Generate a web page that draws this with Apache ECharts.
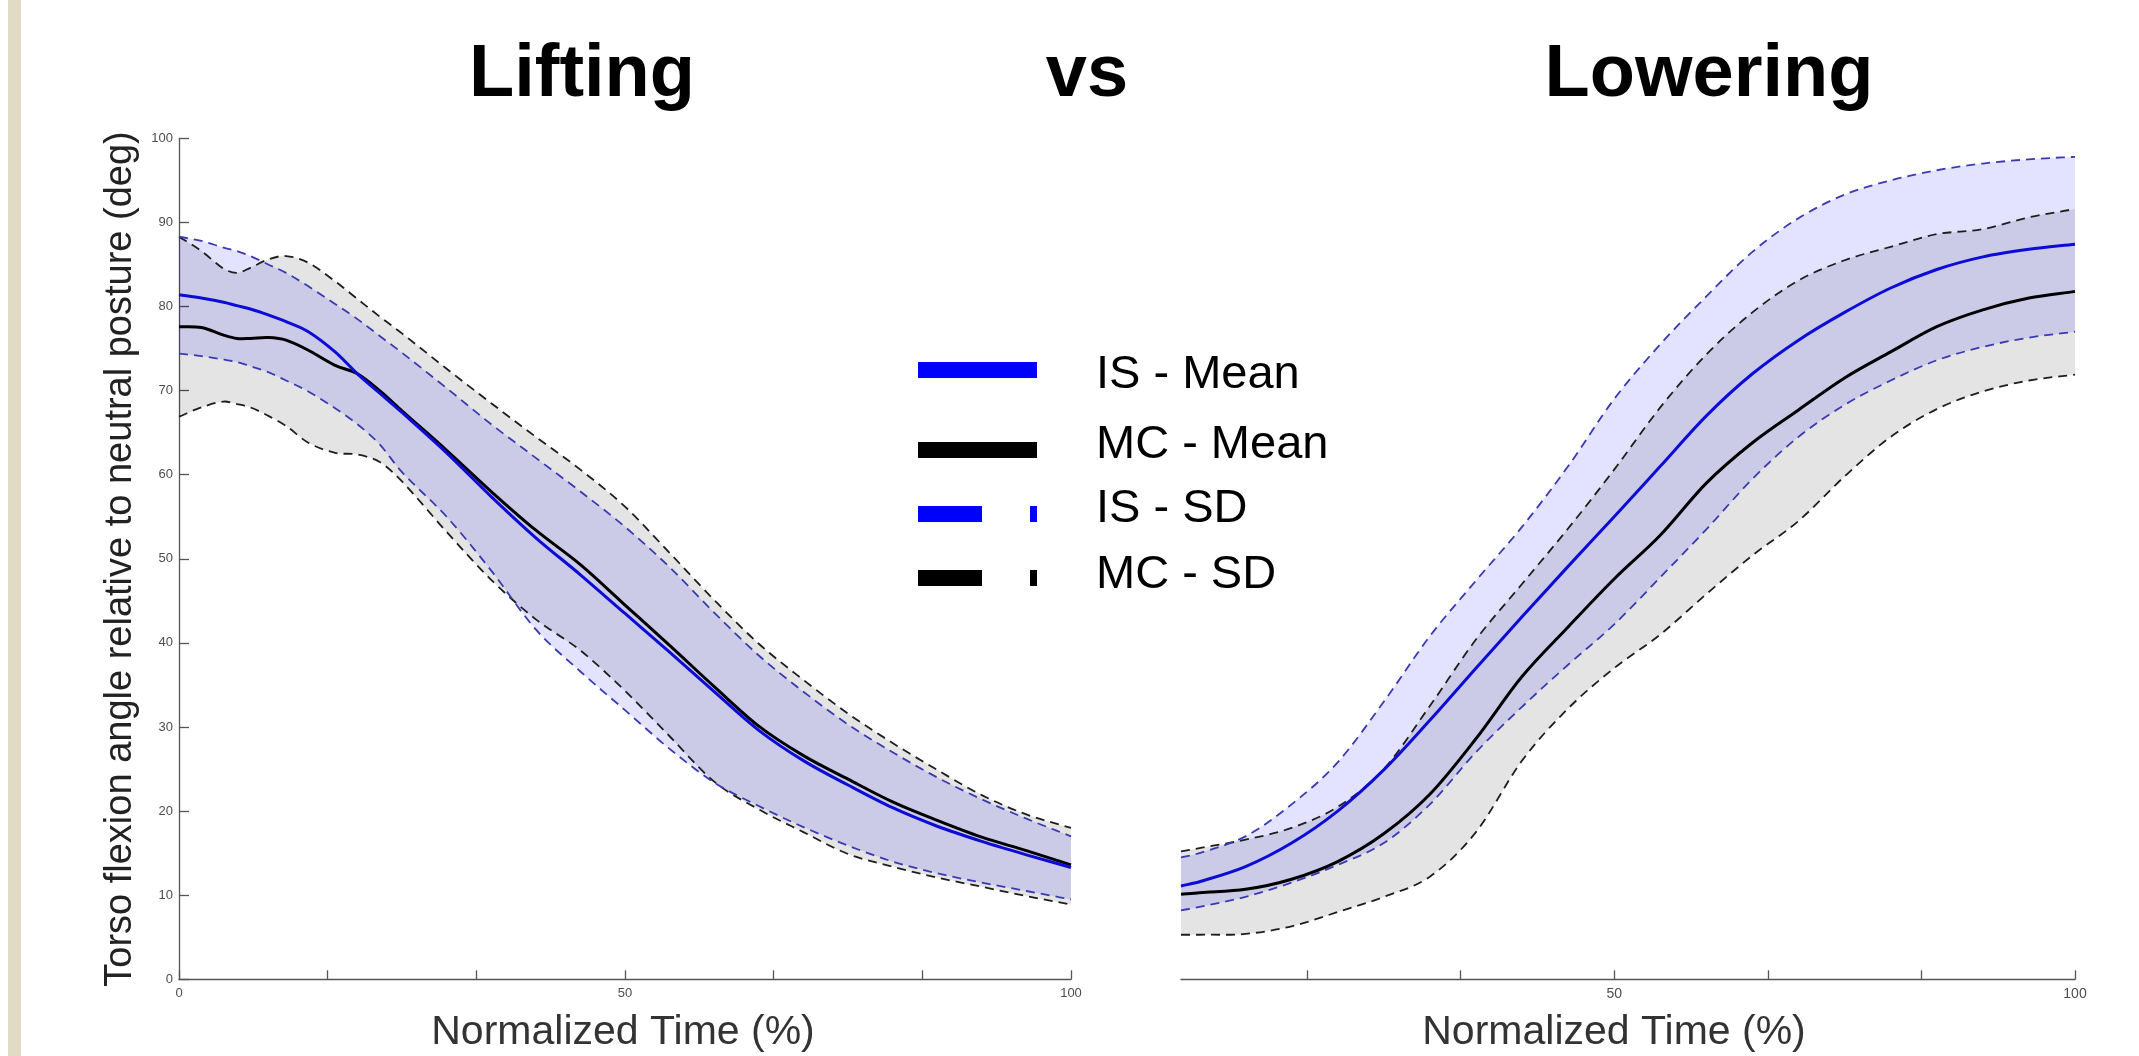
<!DOCTYPE html>
<html><head><meta charset="utf-8">
<script src="https://cdn.jsdelivr.net/npm/echarts@6/dist/echarts.min.js"></script>
<style>html,body{margin:0;padding:0;background:#fff}#c{width:2139px;height:1056px}</style>
</head><body><div id="c"></div>
<script>
// ---- Lifting panel (normalized time %, angle deg) ----
const liftTime    = [0, 2.5, 5, 6.5, 8, 10, 12, 14.5, 17.5, 20, 22.5, 25, 30, 35, 40, 45, 50, 55, 60, 65, 70, 75, 80, 85, 90, 95, 100];
const liftIsMean  = [81.4, 81.0, 80.5, 80.1, 79.7, 79.0, 78.2, 77.0, 74.6, 72.0, 69.7, 67.4, 62.6, 57.4, 52.5, 48.1, 43.5, 38.9, 34.2, 29.6, 26.0, 23.1, 20.4, 18.2, 16.4, 14.8, 13.3];
const liftIsUpper = [88.3, 87.8, 87.0, 86.6, 86.0, 85.0, 84.0, 82.4, 80.3, 78.5, 76.5, 74.5, 70.3, 66.0, 62.0, 58.0, 53.8, 49.0, 43.6, 38.5, 34.2, 30.3, 27.0, 24.0, 21.4, 19.1, 17.0];
const liftIsLower = [74.4, 74.1, 73.7, 73.4, 72.9, 72.2, 71.2, 69.9, 67.9, 66.0, 63.6, 60.3, 55.0, 48.6, 41.6, 36.6, 32.0, 27.4, 23.4, 20.6, 18.1, 15.9, 14.0, 12.6, 11.5, 10.5, 9.5];
const liftMcMean  = [77.6, 77.5, 76.6, 76.2, 76.2, 76.3, 76.0, 74.8, 73.0, 72.0, 70.0, 67.6, 62.9, 58.0, 53.4, 49.3, 44.5, 39.7, 34.8, 30.1, 26.6, 23.8, 21.1, 18.9, 16.9, 15.3, 13.6];
const liftMcUpper = [88.3, 86.6, 84.5, 84.0, 84.6, 85.6, 86.0, 85.2, 83.0, 80.9, 78.8, 76.8, 72.6, 68.5, 64.5, 60.6, 56.2, 50.7, 45.1, 39.9, 35.6, 31.6, 28.1, 24.9, 21.9, 19.6, 18.0];
const liftMcLower = [66.9, 68.0, 68.7, 68.4, 68.0, 67.0, 65.8, 63.8, 62.6, 62.4, 61.5, 59.2, 53.2, 47.5, 42.8, 39.1, 34.3, 28.9, 23.5, 20.2, 17.5, 14.9, 13.4, 12.1, 11.0, 9.9, 8.9];

// ---- Lowering panel ----
const lowTime    = [3, 5, 10, 15, 20, 25, 30, 35, 40, 45, 50, 55, 60, 65, 70, 75, 80, 85, 90, 95, 100];
const lowIsMean  = [11.1, 11.6, 13.4, 16.2, 20.0, 24.9, 30.8, 37.0, 43.1, 49.1, 55.0, 61.0, 67.0, 72.0, 76.0, 79.3, 82.2, 84.4, 85.9, 86.8, 87.4];
const lowIsUpper = [14.5, 15.0, 17.0, 20.8, 25.8, 33.0, 40.8, 47.4, 53.8, 61.0, 69.0, 75.5, 81.2, 86.5, 90.5, 93.3, 95.0, 96.2, 97.0, 97.5, 97.8];
const lowIsLower = [8.2, 8.6, 9.8, 11.5, 13.6, 16.2, 20.8, 27.0, 32.4, 37.4, 42.2, 47.8, 53.5, 59.5, 64.5, 68.3, 71.2, 73.6, 75.2, 76.3, 77.0];
const lowMcMean  = [10.1, 10.3, 10.7, 11.9, 14.0, 17.3, 22.0, 28.6, 36.0, 41.9, 47.6, 52.8, 59.0, 63.8, 67.7, 71.5, 74.6, 77.6, 79.6, 81.0, 81.8];
const lowMcUpper = [15.2, 15.6, 16.6, 18.0, 20.5, 25.0, 32.5, 40.4, 47.0, 53.6, 60.6, 68.0, 74.3, 79.3, 83.1, 85.5, 87.1, 88.6, 89.2, 90.6, 91.6];
const lowMcLower = [5.3, 5.3, 5.4, 6.3, 8.0, 9.8, 12.2, 17.5, 26.0, 32.2, 37.0, 41.0, 45.8, 50.4, 54.5, 59.8, 64.5, 67.8, 69.9, 71.2, 71.9];

// ---- ticks ----
const xTickValues = [0, 100/6, 200/6, 50, 400/6, 500/6, 100];
const xTickLabels = [0, 50, 100];
const lowXTickValues = [100/6, 200/6, 50, 400/6, 500/6, 100];
const lowXTickLabels = [50, 100];
const yTickInterval = 10;

const FONT = '"Liberation Sans", Arial, Helvetica, sans-serif';
const IS_MEAN = '#0c0cd6', MC_MEAN = '#000000', IS_SD = '#3a3ab2', MC_SD = '#1e1e1e';
const IS_FILL = 'rgba(0,0,255,0.11)', MC_FILL = 'rgba(0,0,0,0.105)';

// smooth cubic (Hermite) path through pixel points
function curvePath(pts, move) {
  const n = pts.length, m = [];
  for (let i = 0; i < n; i++) {
    const a = pts[Math.max(0, i - 1)], b = pts[Math.min(n - 1, i + 1)];
    m[i] = (b[1] - a[1]) / (b[0] - a[0]);
  }
  let d = (move ? 'M' : 'L') + pts[0][0] + ',' + pts[0][1];
  for (let i = 0; i < n - 1; i++) {
    const dx = pts[i + 1][0] - pts[i][0];
    d += ' C' + (pts[i][0] + dx / 3) + ',' + (pts[i][1] + m[i] * dx / 3) + ' ' +
         (pts[i + 1][0] - dx / 3) + ',' + (pts[i + 1][1] - m[i + 1] * dx / 3) + ' ' +
         pts[i + 1][0] + ',' + pts[i + 1][1];
  }
  return d;
}
const pairs = (xs, ys) => xs.map((x, i) => [x, ys[i]]);

function bandSeries(ax, xs, up, lo, fill, z) {
  return {
    type: 'custom', xAxisIndex: ax, yAxisIndex: ax, data: pairs(xs, up), silent: true, z,
    renderItem: (params, api) => {
      if (params.dataIndex !== 0) return null;
      const top = xs.map((x, i) => api.coord([x, up[i]]));
      const bot = xs.map((x, i) => api.coord([x, lo[i]])).reverse();
      return { type: 'path', shape: { pathData: curvePath(top, true) + ' ' + curvePath(bot, false) + ' Z' },
               style: { fill, stroke: null } };
    }
  };
}
function curveSeries(ax, xs, ys, color, width, dashed, z) {
  return {
    type: 'custom', xAxisIndex: ax, yAxisIndex: ax, data: pairs(xs, ys), silent: true, z,
    renderItem: (params, api) => {
      if (params.dataIndex !== 0) return null;
      const pts = xs.map((x, i) => api.coord([x, ys[i]]));
      return { type: 'path', shape: { pathData: curvePath(pts, true) },
               style: { fill: null, stroke: color, lineWidth: width, lineDash: dashed ? [9, 6] : null } };
    }
  };
}
function panelSeries(ax, t, isM, isU, isL, mcM, mcU, mcL) {
  return [
    bandSeries(ax, t, mcU, mcL, MC_FILL, 1),
    bandSeries(ax, t, isU, isL, IS_FILL, 2),
    curveSeries(ax, t, mcU, MC_SD, 1.8, true, 3),
    curveSeries(ax, t, mcL, MC_SD, 1.8, true, 3),
    curveSeries(ax, t, isU, IS_SD, 1.8, true, 3),
    curveSeries(ax, t, isL, IS_SD, 1.8, true, 3),
    curveSeries(ax, t, mcM, MC_MEAN, 3, false, 4),
    curveSeries(ax, t, isM, IS_MEAN, 3, false, 5)
  ];
}

const axisGray = '#555555';
const labelStyle = { fontSize: 13, color: '#4d4d4d', fontFamily: FONT };

const chart = echarts.init(document.getElementById('c'), null, { renderer: 'canvas' });
chart.setOption({
  animation: false,
  backgroundColor: '#ffffff',
  grid: [
    { left: 179, top: 138.3, width: 892, height: 841, outerBoundsMode: 'none' },
    { left: 1181, top: 138.3, width: 894, height: 841, outerBoundsMode: 'none' }
  ],
  xAxis: [
    { type: 'value', gridIndex: 0, min: 0, max: 100,
      axisLine: { show: true, lineStyle: { color: axisGray, width: 1.3 } },
      axisTick: { show: true, inside: true, length: 9, customValues: xTickValues, lineStyle: { color: axisGray, width: 1.3 } },
      axisLabel: { ...labelStyle, margin: 8, customValues: xTickLabels },
      splitLine: { show: false } },
    { type: 'value', gridIndex: 1, min: 3, max: 100,
      axisLine: { show: true, lineStyle: { color: axisGray, width: 1.3 } },
      axisTick: { show: true, inside: true, length: 9, customValues: lowXTickValues, lineStyle: { color: axisGray, width: 1.3 } },
      axisLabel: { ...labelStyle, fontSize: 14, margin: 8, customValues: lowXTickLabels },
      splitLine: { show: false } }
  ],
  yAxis: [
    { type: 'value', gridIndex: 0, min: 0, max: 100, interval: yTickInterval,
      axisLine: { show: true, lineStyle: { color: axisGray, width: 1.3 } },
      axisTick: { show: true, inside: true, length: 10, lineStyle: { color: axisGray, width: 1.3 } },
      axisLabel: { ...labelStyle, margin: 6 },
      splitLine: { show: false } },
    { type: 'value', gridIndex: 1, min: 0, max: 100, show: false, splitLine: { show: false } }
  ],
  series: [
    ...panelSeries(0, liftTime, liftIsMean, liftIsUpper, liftIsLower, liftMcMean, liftMcUpper, liftMcLower),
    ...panelSeries(1, lowTime, lowIsMean, lowIsUpper, lowIsLower, lowMcMean, lowMcUpper, lowMcLower)
  ],
  graphic: [
    { type: 'rect', left: 8, top: 0, shape: { width: 13, height: 1056 }, style: { fill: '#e0dbc7' }, silent: true },
    { type: 'text', x: 582, y: 76, style: { text: 'Lifting', font: 'bold 74px ' + FONT, fill: '#000', textAlign: 'center', textVerticalAlign: 'middle' } },
    { type: 'text', x: 1087, y: 76, style: { text: 'vs', font: 'bold 74px ' + FONT, fill: '#000', textAlign: 'center', textVerticalAlign: 'middle' } },
    { type: 'text', x: 1709, y: 76, style: { text: 'Lowering', font: 'bold 74px ' + FONT, fill: '#000', textAlign: 'center', textVerticalAlign: 'middle' } },
    { type: 'text', x: 623, y: 1033, style: { text: 'Normalized Time (%)', font: '41px ' + FONT, fill: '#333', textAlign: 'center', textVerticalAlign: 'middle' } },
    { type: 'text', x: 1614, y: 1033, style: { text: 'Normalized Time (%)', font: '41px ' + FONT, fill: '#333', textAlign: 'center', textVerticalAlign: 'middle' } },
    { type: 'text', x: 121, y: 559, rotation: Math.PI / 2, style: { text: 'Torso flexion angle relative to neutral posture (deg)', font: '38px ' + FONT, fill: '#222', textAlign: 'center', textVerticalAlign: 'middle' } },
    // legend
    { type: 'rect', shape: { x: 918, y: 362, width: 119, height: 16 }, style: { fill: '#0000ff' } },
    { type: 'rect', shape: { x: 918, y: 442, width: 119, height: 16 }, style: { fill: '#000000' } },
    { type: 'rect', shape: { x: 918, y: 506, width: 64, height: 16 }, style: { fill: '#0000ff' } },
    { type: 'rect', shape: { x: 1030, y: 506, width: 7, height: 16 }, style: { fill: '#0000ff' } },
    { type: 'rect', shape: { x: 918, y: 570, width: 64, height: 16 }, style: { fill: '#000000' } },
    { type: 'rect', shape: { x: 1030, y: 570, width: 7, height: 16 }, style: { fill: '#000000' } },
    { type: 'text', x: 1096, y: 375.5, style: { text: 'IS - Mean', font: '47px ' + FONT, fill: '#000', textVerticalAlign: 'middle' } },
    { type: 'text', x: 1096, y: 445.5, style: { text: 'MC - Mean', font: '47px ' + FONT, fill: '#000', textVerticalAlign: 'middle' } },
    { type: 'text', x: 1096, y: 509, style: { text: 'IS - SD', font: '47px ' + FONT, fill: '#000', textVerticalAlign: 'middle' } },
    { type: 'text', x: 1096, y: 575.5, style: { text: 'MC - SD', font: '47px ' + FONT, fill: '#000', textVerticalAlign: 'middle' } }
  ]
});
</script></body></html>
